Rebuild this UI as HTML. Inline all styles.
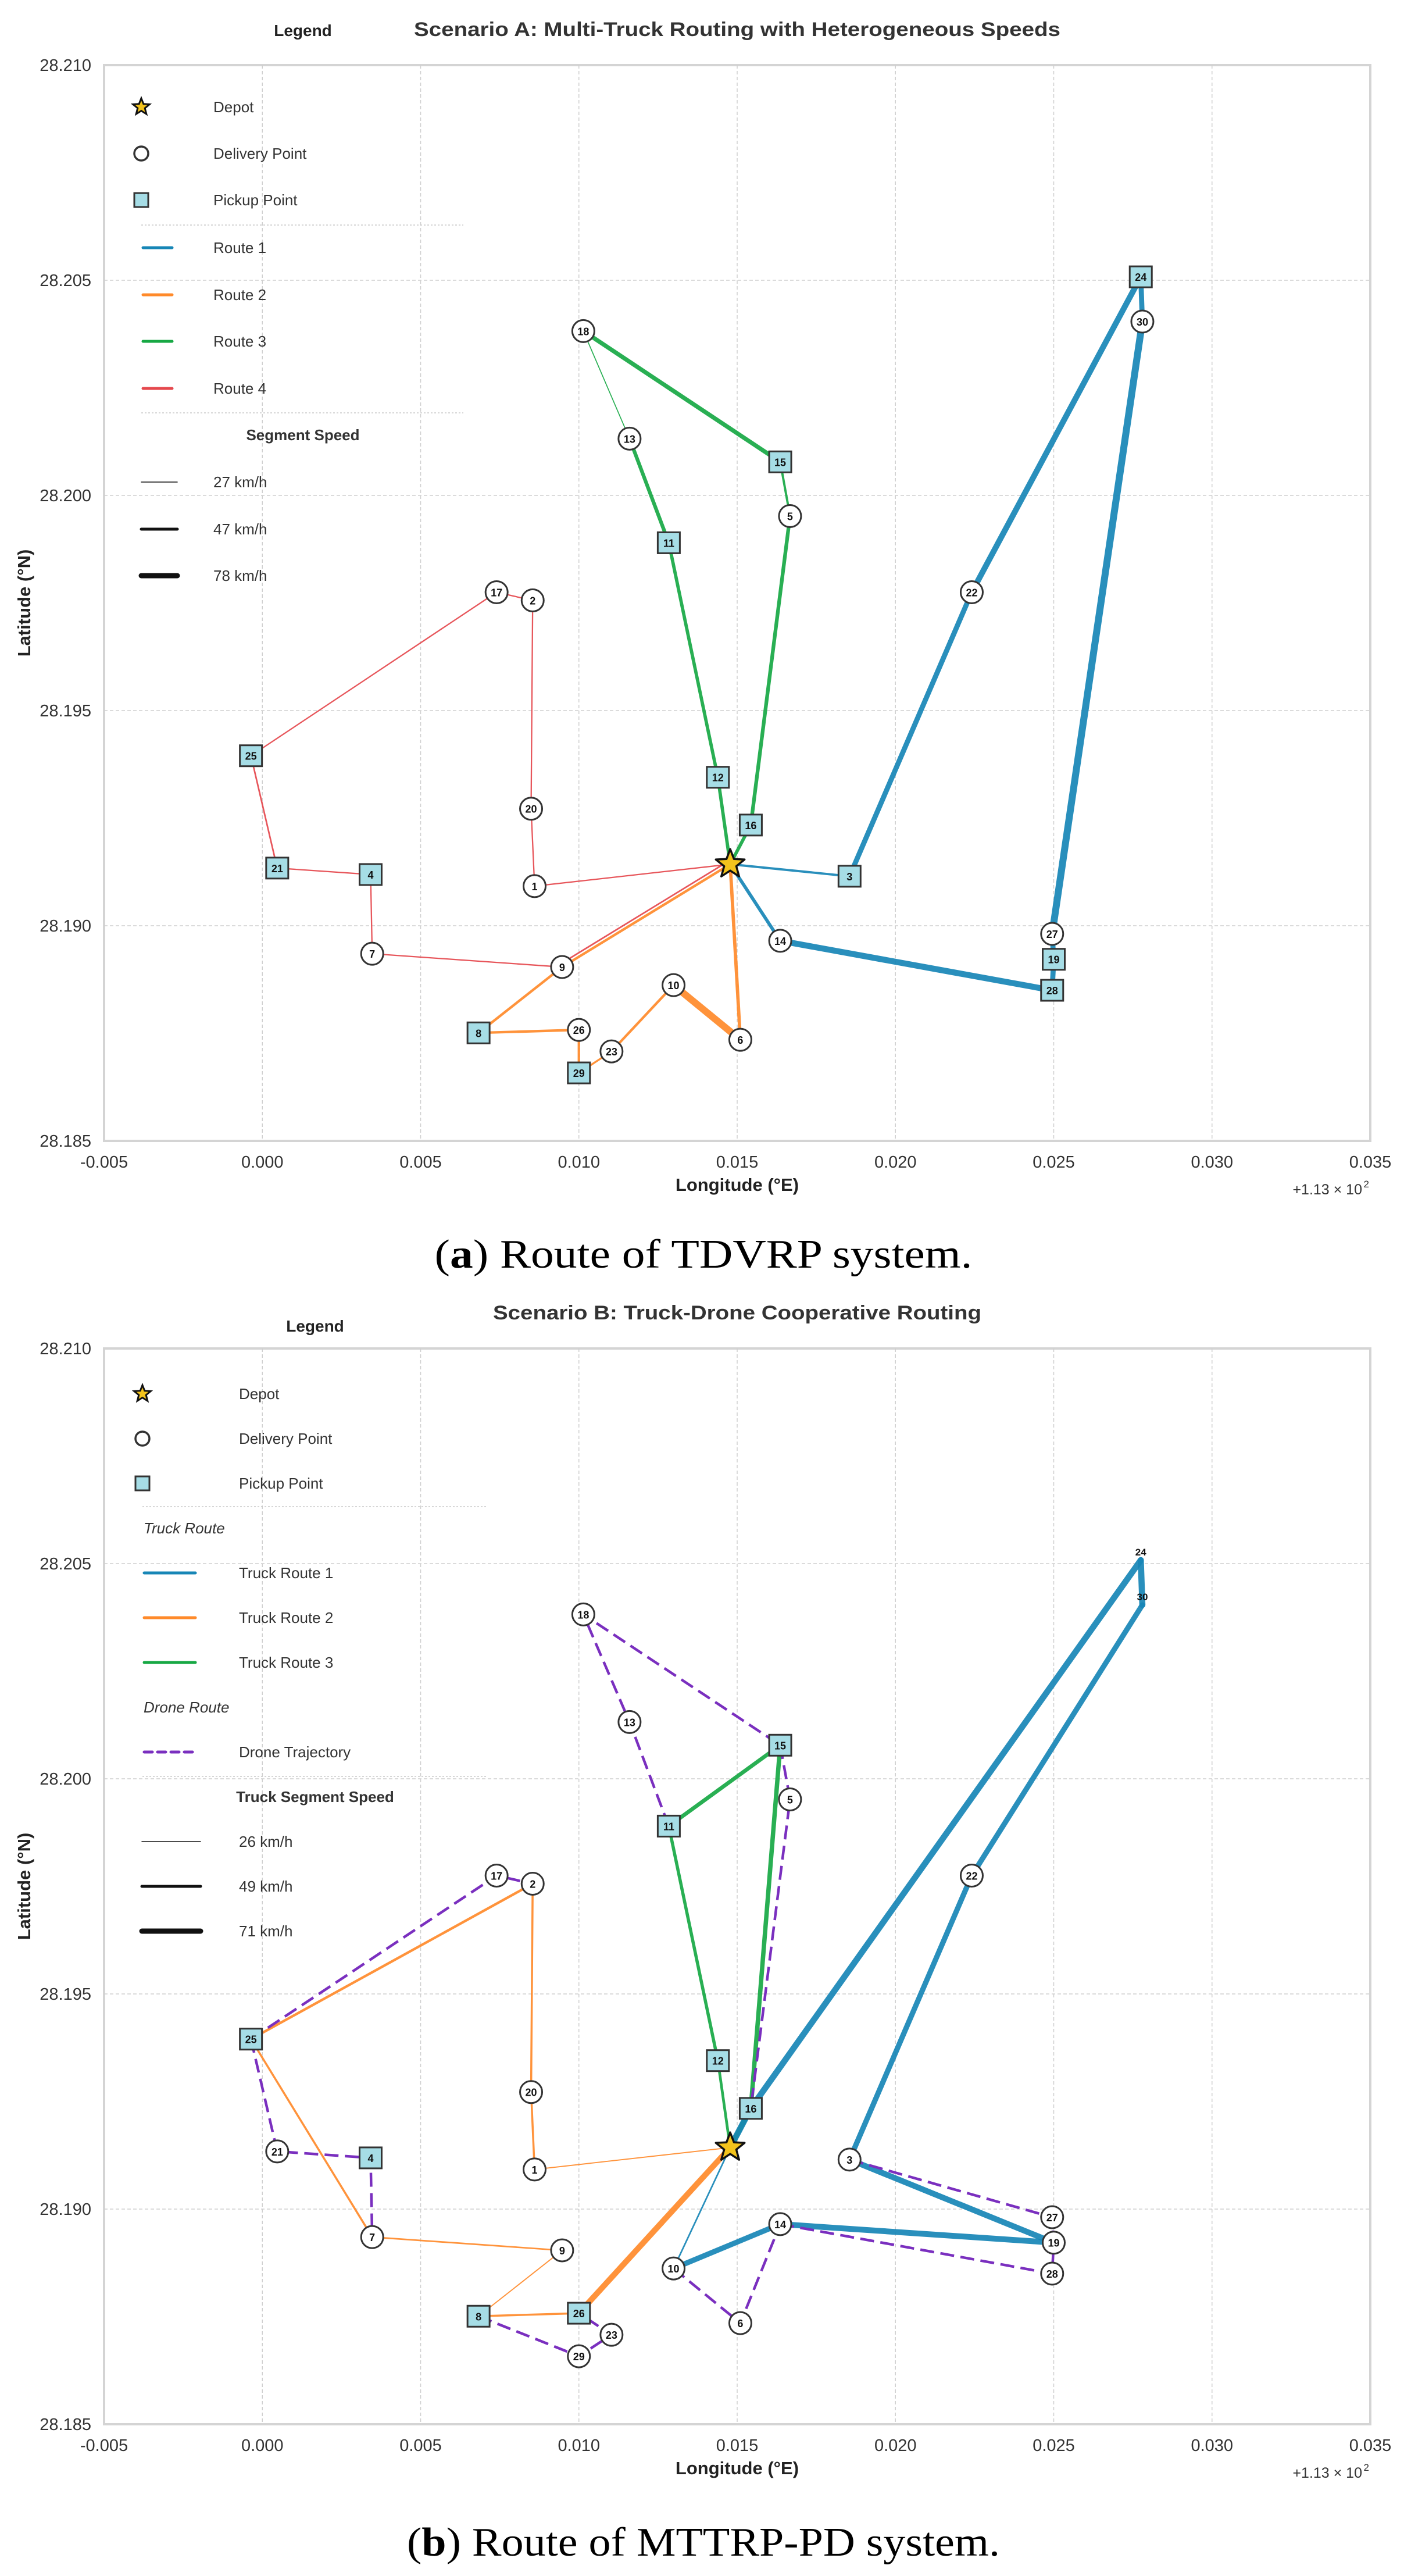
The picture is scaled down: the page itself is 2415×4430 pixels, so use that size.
<!DOCTYPE html>
<html><head><meta charset="utf-8"><style>
html,body{margin:0;padding:0;background:#fff;}
svg{display:block;font-family:"Liberation Sans",sans-serif;}
</style></head><body>
<svg id="fig" xmlns="http://www.w3.org/2000/svg" width="2415" height="4430" viewBox="0 0 2415 4430">
<rect x="0" y="0" width="2415" height="4430" fill="#fff"/>
</svg>
<script>
// ---------- data ----------
const xTicks = [-0.005, 0.000, 0.005, 0.010, 0.015, 0.020, 0.025, 0.030, 0.035];
const xTickLabels = ["-0.005","0.000","0.005","0.010","0.015","0.020","0.025","0.030","0.035"];
const yTicks = [28.185, 28.190, 28.195, 28.200, 28.205, 28.210];
const yTickLabels = ["28.185","28.190","28.195","28.200","28.205","28.210"];
const depotLon = 0.01478;
const depotLat = 28.19143;
const pointIds = [1,2,3,4,5,6,7,8,9,10,11,12,13,14,15,16,17,18,19,20,21,22,23,24,25,26,27,28,29,30];
const pointLon = [0.0086,0.00854,0.01855,0.00342,0.01667,0.0151,0.00347,0.00683,0.00947,0.01299,0.01284,0.01439,0.0116,0.01636,0.01636,0.01543,0.0074,0.01014,0.025,0.00849,0.00047,0.02241,0.01103,0.02775,-0.00036,0.01,0.02495,0.02495,0.01,0.0278];
const pointLat = [28.19092,28.19756,28.19115,28.19119,28.19952,28.18735,28.18935,28.18751,28.18904,28.18862,28.1989,28.19345,28.20132,28.18965,28.20078,28.19234,28.19775,28.20382,28.18922,28.19272,28.19134,28.19775,28.18708,28.20508,28.19395,28.18758,28.18981,28.1885,28.18658,28.20404];
const squaresA = [3,4,8,11,12,15,16,19,21,24,25,28,29];
const squaresB = [4,8,11,12,15,16,25,26];
const hiddenB = [24,30];
// Scenario A routes (0 = depot) and segment speeds (km/h)
const routeA1 = [0,3,22,24,30,27,19,28,14,0];
const speedA1 = [38,62,68,62,78,62,62,70,47];
const routeA2 = [0,6,10,23,29,26,8,9,0];
const speedA2 = [47,78,40,35,40,40,40,40];
const routeA3 = [0,12,11,13,18,15,5,16,0];
const speedA3 = [47,47,50,27,55,38,50,47];
const routeA4 = [0,1,20,2,17,25,21,4,7,9,0];
const speedA4 = [30,30,30,30,30,32,30,30,30,32];
// Scenario B truck routes
const routeB1 = [0,16,24,30,22,3,19,14,10,0];
const speedB1 = [71,71,71,64,64,68,68,64,32];
const routeB2 = [0,26,8,9,7,25,2,20,1,0];
const speedB2 = [68,36,28,32,36,40,36,36,28];
const routeB3 = [0,12,11,15,16,0];
const speedB3 = [42,46,52,56,62];
// Scenario B drone trajectories
const droneB1 = [8,29,23,26];
const droneB2 = [10,6,14];
const droneB3 = [25,17,2];
const droneB4 = [25,21,4,7];
const droneB5 = [11,13,18,15];
const droneB6 = [15,5,16];
const droneB7 = [3,27,19];
const droneB8 = [14,28,19];

// ---------- layout ----------
const NS = "http://www.w3.org/2000/svg";
const svg = document.getElementById('fig');
const PL = 179, PR = 2357, PH = 1850;
const COL = {b:"#1786b6", o:"#ff8a2a", g:"#17a844", r:"#e5484d", p:"#7a2fbf"};
function mk(tag, attrs, parent){ const e=document.createElementNS(NS,tag); for(const k in attrs) e.setAttribute(k,attrs[k]); (parent||svg).appendChild(e); return e; }
function txt(str, attrs, parent){ const e=mk('text',attrs,parent); e.textContent=str; return e; }
function xs(lon){ return PL + (lon - (-0.005)) / 0.04 * (PR-PL); }
function ysF(top){ return lat => top + (28.210 - lat) / 0.025 * PH; }
function wOf(s){ return 1.5 + (s-26)/52*10.5; }
function P(id){ return id===0 ? [depotLon, depotLat] : [pointLon[id-1], pointLat[id-1]]; }

function drawPanel(top, g, opts){
  const ys = ysF(top);
  const frame = mk('rect',{x:PL,y:top,width:PR-PL,height:PH,fill:'#fff',stroke:'#d4d4d4','stroke-width':4},g);
  
  
  xTicks.forEach((t,i)=>{
    const x=xs(t);
    if(i>0 && i<xTicks.length-1){ const l=mk('line',{x1:x,y1:top,x2:x,y2:top+PH,stroke:'#cfcfcf','stroke-width':1.5,'stroke-dasharray':'6 4'},g);
        }
    const t1=txt(xTickLabels[i],{x:x,y:top+PH+46,'text-anchor':'middle','font-size':29,fill:'#333'},g);
     
  });
  yTicks.forEach((t,i)=>{
    const y=ys(t);
    if(i>0 && i<yTicks.length-1){ const l=mk('line',{x1:PL,y1:y,x2:PR,y2:y,stroke:'#cfcfcf','stroke-width':1.5,'stroke-dasharray':'6 4'},g);
        }
    const t1=txt(yTickLabels[i],{x:157,y:y+10,'text-anchor':'end','font-size':29,fill:'#333'},g);
     
  });
  const xl=txt('Longitude (°E)',{x:1268,y:top+PH+86,'text-anchor':'middle','font-size':31,'font-weight':'bold',fill:'#222'},g);
   
  const off=txt('+1.13 × 10',{x:PR-14,y:top+PH+92,'text-anchor':'end','font-size':25,fill:'#333'},g);
   
  const sup=txt('2',{x:PR-2,y:top+PH+80,'text-anchor':'end','font-size':17,fill:'#333'},g);
   
  const yl=txt('Latitude (°N)',{x:0,y:0,'text-anchor':'middle','font-size':31,'font-weight':'bold',fill:'#222',transform:`translate(52 ${top+PH/2}) rotate(-90)`},g);
   
  const ti=txt(opts.title,{x:1268,y:top-50,'text-anchor':'middle','font-size':34,'font-weight':'bold',fill:'#333',textLength:opts.titleLen,lengthAdjust:'spacingAndGlyphs'},g);
   

  opts.routes.forEach(r=>{
    for(let i=0;i<r.ids.length-1;i++){
      const a=P(r.ids[i]), b=P(r.ids[i+1]);
      const dy = (r.shiftLast && i===r.ids.length-2) ? r.shiftLast : 0;
      const l=mk('line',{x1:xs(a[0]),y1:ys(a[1])+dy,x2:xs(b[0]),y2:ys(b[1])+dy,stroke:r.color,'stroke-width':wOf(r.speed[i]),'stroke-linecap':'round','stroke-opacity':0.92},g);
      
      
    }
  });
  (opts.drones||[]).forEach(d=>{
    const pts=d.map(id=>{const p=P(id);return xs(p[0])+','+ys(p[1]);}).join(' ');
    const l=mk('polyline',{points:pts,fill:'none',stroke:COL.p,'stroke-width':4.5,'stroke-dasharray':'24 11'},g);
    
    
  });
  pointIds.forEach((id,i)=>{
    const x=xs(pointLon[i]), y=ys(pointLat[i]);
    if(opts.hidden.includes(id)){
      const t=txt(String(id),{x:x,y:y-8,'text-anchor':'middle','font-size':17,'font-weight':'bold',fill:'#111'},g);
       
      return;
    }
    if(opts.squares.includes(id)){
      const s=mk('rect',{x:x-19,y:y-18,width:38,height:36,fill:'#a6dde6',stroke:'#333','stroke-width':3},g);
       
    } else {
      const c=mk('circle',{cx:x,cy:y,r:19,fill:'#fff',stroke:'#333','stroke-width':3},g);
       
    }
    const t=txt(String(id),{x:x,y:y+7,'text-anchor':'middle','font-size':18,'font-weight':'bold',fill:'#111'},g);
     
  });
  const dx=xs(depotLon), dy=ys(depotLat);
  const st=mk('polygon',{points:starPts(dx,dy,26,11),fill:'#f3c31c',stroke:'#111','stroke-width':3.5,'stroke-linejoin':'round'},g);
   
}
function starPts(cx,cy,R,r){ const a=[]; for(let i=0;i<10;i++){ const ang=-Math.PI/2+i*Math.PI/5, rr=i%2?r:R; a.push((cx+rr*Math.cos(ang)).toFixed(1)+','+(cy+rr*Math.sin(ang)).toFixed(1)); } return a.join(' '); }

function legend(g, items, titleY, titleX){
  const t=txt('Legend',{x:titleX,y:titleY,'text-anchor':'middle','font-size':28,'font-weight':'bold',fill:'#222'},g);
   
  items.forEach(it=>{
    const y=it.y;
    let e;
    if(it.k==='star'){ e=mk('polygon',{points:starPts(it.mx,y,15,6.5),fill:'#f3c31c',stroke:'#111','stroke-width':3},g); }
    else if(it.k==='circ'){ e=mk('circle',{cx:it.mx,cy:y,r:12,fill:'#fff',stroke:'#333','stroke-width':3.5},g); }
    else if(it.k==='sq'){ e=mk('rect',{x:it.mx-12,y:y-12,width:24,height:24,fill:'#a6dde6',stroke:'#333','stroke-width':3},g); }
    else if(it.k==='line'){ const a={x1:it.x1,y1:y,x2:it.x2,y2:y,stroke:it.c,'stroke-width':it.w,'stroke-linecap':'round'}; if(it.dash) a['stroke-dasharray']=it.dash; e=mk('line',a,g); }
    else if(it.k==='sep'){ e=mk('line',{x1:it.x1,y1:y,x2:it.x2,y2:y,stroke:'#c8c8c8','stroke-width':1.5,'stroke-dasharray':'3 3'},g); }
    if(e){   }
    if(it.label){
      const a={x:it.tx,y:y+9,'font-size':it.fs||26,fill:'#333'};
      if(it.bold){a['font-weight']='bold';a['text-anchor']='middle';}
      if(it.ital){a['font-style']='italic';}
      const tt=txt(it.label,a,g);
      
      
    }
  });
}

// ---------- panel A ----------
const gA=mk('g',{});  
drawPanel(112,gA,{title:'Scenario A: Multi-Truck Routing with Heterogeneous Speeds',titleLen:1112,squares:squaresA,hidden:[],
  routes:[{ids:routeA1,speed:speedA1,color:COL.b,name:'route-1'},{ids:routeA2,speed:speedA2,color:COL.o,name:'route-2'},{ids:routeA3,speed:speedA3,color:COL.g,name:'route-3'},{ids:routeA4,speed:speedA4,color:COL.r,name:'route-4',shiftLast:-7}]});
legend(gA,[
  {k:'star',mx:243,y:184,tx:367,label:'Depot',name:'legend-depot'},
  {k:'circ',mx:243,y:264,tx:367,label:'Delivery Point',name:'legend-delivery'},
  {k:'sq',mx:243,y:344,tx:367,label:'Pickup Point',name:'legend-pickup'},
  {k:'sep',x1:243,x2:797,y:387,name:'legend-separator'},
  {k:'line',x1:246,x2:296,y:426,c:COL.b,w:5,tx:367,label:'Route 1',name:'legend-route-1'},
  {k:'line',x1:246,x2:296,y:507,c:COL.o,w:5,tx:367,label:'Route 2',name:'legend-route-2'},
  {k:'line',x1:246,x2:296,y:587,c:COL.g,w:5,tx:367,label:'Route 3',name:'legend-route-3'},
  {k:'line',x1:246,x2:296,y:668,c:COL.r,w:5,tx:367,label:'Route 4',name:'legend-route-4'},
  {k:'sep',x1:243,x2:797,y:710,name:'legend-separator'},
  {k:'none',y:748,tx:521,label:'Segment Speed',bold:true,name:'legend-speed-title'},
  {k:'line',x1:243,x2:305,y:829,c:'#111',w:1.5,tx:367,label:'27 km/h',name:'legend-speed-27'},
  {k:'line',x1:243,x2:305,y:910,c:'#111',w:5,tx:367,label:'47 km/h',name:'legend-speed-47'},
  {k:'line',x1:243,x2:305,y:990,c:'#111',w:9,tx:367,label:'78 km/h',name:'legend-speed-78'}
],62,521);
const capA=mk('text',{x:1210,y:2180,'text-anchor':'middle','font-size':70,fill:'#000','font-family':'"Liberation Serif",serif',textLength:925,lengthAdjust:'spacingAndGlyphs'});
 
capA.innerHTML='(<tspan font-weight="bold">a</tspan>) Route of TDVRP system.';

// ---------- panel B ----------
const gB=mk('g',{});  
drawPanel(2319,gB,{title:'Scenario B: Truck-Drone Cooperative Routing',titleLen:840,squares:squaresB,hidden:hiddenB,
  routes:[{ids:routeB2,speed:speedB2,color:COL.o,name:'truck-route-2'},{ids:routeB3,speed:speedB3,color:COL.g,name:'truck-route-3'},{ids:routeB1,speed:speedB1,color:COL.b,name:'truck-route-1'}],
  drones:[droneB1,droneB2,droneB3,droneB4,droneB5,droneB6,droneB7,droneB8]});
legend(gB,[
  {k:'star',mx:245,y:2397,tx:411,label:'Depot',name:'legend-depot'},
  {k:'circ',mx:245,y:2474,tx:411,label:'Delivery Point',name:'legend-delivery'},
  {k:'sq',mx:245,y:2551,tx:411,label:'Pickup Point',name:'legend-pickup'},
  {k:'sep',x1:245,x2:838,y:2591,name:'legend-separator'},
  {k:'none',y:2628,tx:247,label:'Truck Route',ital:true,name:'legend-truck-section'},
  {k:'line',x1:248,x2:336,y:2705,c:COL.b,w:5,tx:411,label:'Truck Route 1',name:'legend-truck-route-1'},
  {k:'line',x1:248,x2:336,y:2782,c:COL.o,w:5,tx:411,label:'Truck Route 2',name:'legend-truck-route-2'},
  {k:'line',x1:248,x2:336,y:2859,c:COL.g,w:5,tx:411,label:'Truck Route 3',name:'legend-truck-route-3'},
  {k:'none',y:2936,tx:247,label:'Drone Route',ital:true,name:'legend-drone-section'},
  {k:'line',x1:248,x2:336,y:3013,c:COL.p,w:5,dash:'14 9',tx:411,label:'Drone Trajectory',name:'legend-drone'},
  {k:'sep',x1:245,x2:838,y:3055,name:'legend-separator'},
  {k:'none',y:3090,tx:542,label:'Truck Segment Speed',bold:true,name:'legend-speed-title'},
  {k:'line',x1:244,x2:345,y:3167,c:'#111',w:1.5,tx:411,label:'26 km/h',name:'legend-speed-26'},
  {k:'line',x1:244,x2:345,y:3244,c:'#111',w:5,tx:411,label:'49 km/h',name:'legend-speed-49'},
  {k:'line',x1:244,x2:345,y:3321,c:'#111',w:9,tx:411,label:'71 km/h',name:'legend-speed-71'}
],2290,542);
const capB=mk('text',{x:1210,y:4395,'text-anchor':'middle','font-size':70,fill:'#000','font-family':'"Liberation Serif",serif',textLength:1020,lengthAdjust:'spacingAndGlyphs'});
 
capB.innerHTML='(<tspan font-weight="bold">b</tspan>) Route of MTTRP-PD system.';
</script>
</body></html>
